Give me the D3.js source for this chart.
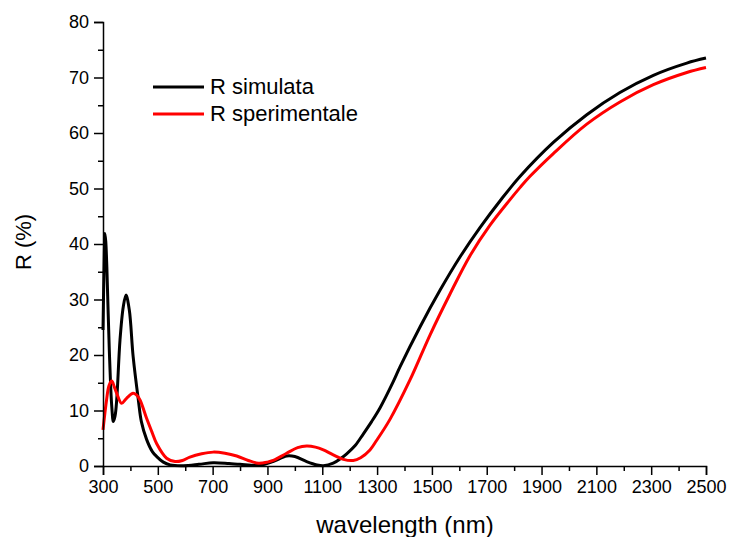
<!DOCTYPE html>
<html>
<head>
<meta charset="utf-8">
<script src="https://cdn.jsdelivr.net/npm/d3@7"></script>
<style>
  body { margin: 0; background: #fff; }
  svg { display: block; font-family: "Liberation Sans", Arial, sans-serif; }
</style>
</head>
<body>
<svg id="drawing_region"></svg>
<script>
// wavelength (nm) and R (%)
const simWave = [300, 305, 307, 310, 314, 323, 332, 338, 344, 350, 362, 374, 384, 396, 410, 429, 440, 459, 480, 496, 520, 545, 593, 650, 702, 760, 800, 873, 920, 970, 1000, 1043, 1080, 1104, 1140, 1166, 1189, 1220, 1250, 1280, 1311, 1359, 1384, 1457, 1530, 1603, 1676, 1749, 1822, 1943, 2065, 2186, 2308, 2430, 2500];
const simR    = [24.5, 38.9, 41.9, 40.5, 35.9, 20.9, 10.7, 8.0, 9.0, 11.9, 22.7, 28.7, 30.8, 28.1, 19.7, 11.9, 8.0, 4.8, 2.6, 1.7, 0.7, 0.2, 0.05, 0.3, 0.6, 0.45, 0.3, 0.15, 0.8, 1.8, 1.7, 0.8, 0.2, 0.05, 0.5, 1.3, 2.2, 3.7, 5.8, 8.0, 10.5, 15.2, 17.9, 25.1, 31.7, 37.7, 43.0, 47.8, 52.2, 58.3, 63.3, 67.3, 70.4, 72.6, 73.5];

const expWave = [300, 313, 322, 332, 341, 350, 368, 386, 410, 422, 435, 459, 478, 496, 532, 563, 590, 617, 660, 702, 745, 788, 830, 867, 900, 921, 970, 1010, 1043, 1075, 1104, 1140, 1177, 1213, 1240, 1274, 1298, 1347, 1420, 1493, 1566, 1639, 1712, 1785, 1822, 1858, 1943, 2065, 2186, 2308, 2430, 2500];
const expR    = [6.5, 11.9, 14.5, 15.3, 14.3, 13.1, 11.3, 12.2, 13.1, 12.8, 11.9, 8.6, 6.2, 4.0, 1.4, 0.8, 1.0, 1.6, 2.2, 2.5, 2.3, 1.8, 1.0, 0.5, 0.7, 1.0, 2.3, 3.3, 3.6, 3.4, 2.9, 2.0, 1.2, 1.0, 1.5, 2.9, 4.6, 8.4, 15.5, 23.6, 31.0, 37.9, 43.4, 48.0, 50.2, 52.2, 56.3, 61.6, 65.6, 68.7, 70.9, 71.8];

const xTicks = [300, 500, 700, 900, 1100, 1300, 1500, 1700, 1900, 2100, 2300, 2500];
const xMinor = [400, 600, 800, 1000, 1200, 1400, 1600, 1800, 2000, 2200, 2400];
const yTicks = [0, 10, 20, 30, 40, 50, 60, 70, 80];
const yMinor = [5, 15, 25, 35, 45, 55, 65, 75];

const seriesNames = ["R simulata", "R sperimentale"];
const seriesColors = ["#000000", "#ff0000"];

const width = 729, height = 537;
const svg = d3.select("#drawing_region")
    .attr("width", width)
    .attr("height", height);

const x = d3.scaleLinear().domain([300, 2500]).range([103, 706]);
const y = d3.scaleLinear().domain([0, 80]).range([466, 22]);

// curves
const line = d3.line()
    .x(d => x(d[0]))
    .y(d => y(Math.max(0, d[1])))
    .curve(d3.curveCatmullRom.alpha(0.5));

const series = [
    simWave.map((w, i) => [w, simR[i]]),
    expWave.map((w, i) => [w, expR[i]])
];

svg.selectAll("path.series")
    .data(series)
    .enter()
    .append("path")
    .attr("class", "series")
    .attr("d", line)
    .attr("fill", "none")
    .attr("stroke", (d, i) => seriesColors[i])
    .attr("stroke-width", 3)
    .attr("stroke-linejoin", "round");

// axes
svg.append("g")
    .attr("transform", `translate(0,${y(0)})`)
    .call(d3.axisBottom(x).tickValues(xTicks).tickSize(9).tickPadding(5).tickFormat(d3.format("d")));
svg.append("g")
    .attr("transform", `translate(0,${y(0)})`)
    .call(d3.axisBottom(x).tickValues(xMinor).tickSize(5).tickFormat(""))
    .select(".domain").remove();

svg.append("g")
    .attr("transform", `translate(${x(300)},0)`)
    .call(d3.axisLeft(y).tickValues(yTicks).tickSize(9).tickPadding(5));
svg.append("g")
    .attr("transform", `translate(${x(300)},0)`)
    .call(d3.axisLeft(y).tickValues(yMinor).tickSize(5).tickFormat(""))
    .select(".domain").remove();

svg.selectAll(".domain").attr("stroke", "#000").attr("stroke-width", 1.5);
svg.selectAll(".tick line").attr("stroke", "#000").attr("stroke-width", 1.5);
svg.selectAll(".tick text")
    .attr("font-family", "Liberation Sans, Arial, sans-serif")
    .attr("font-size", 18)
    .attr("fill", "#000");

// axis titles
svg.append("text")
    .attr("x", 405)
    .attr("y", 533)
    .attr("text-anchor", "middle")
    .attr("font-size", 24)
    .text("wavelength (nm)");

svg.append("text")
    .attr("transform", "translate(31,242) rotate(-90)")
    .attr("text-anchor", "middle")
    .attr("font-size", 22)
    .text("R (%)");

// legend
const legend = svg.append("g");
seriesNames.forEach((name, i) => {
    const ly = 87 + i * 27;
    legend.append("line")
        .attr("x1", 153).attr("x2", 204)
        .attr("y1", ly).attr("y2", ly)
        .attr("stroke", seriesColors[i])
        .attr("stroke-width", 3);
    legend.append("text")
        .attr("x", 210)
        .attr("y", ly + 7)
        .attr("font-size", 22)
        .text(name);
});
</script>
</body>
</html>
